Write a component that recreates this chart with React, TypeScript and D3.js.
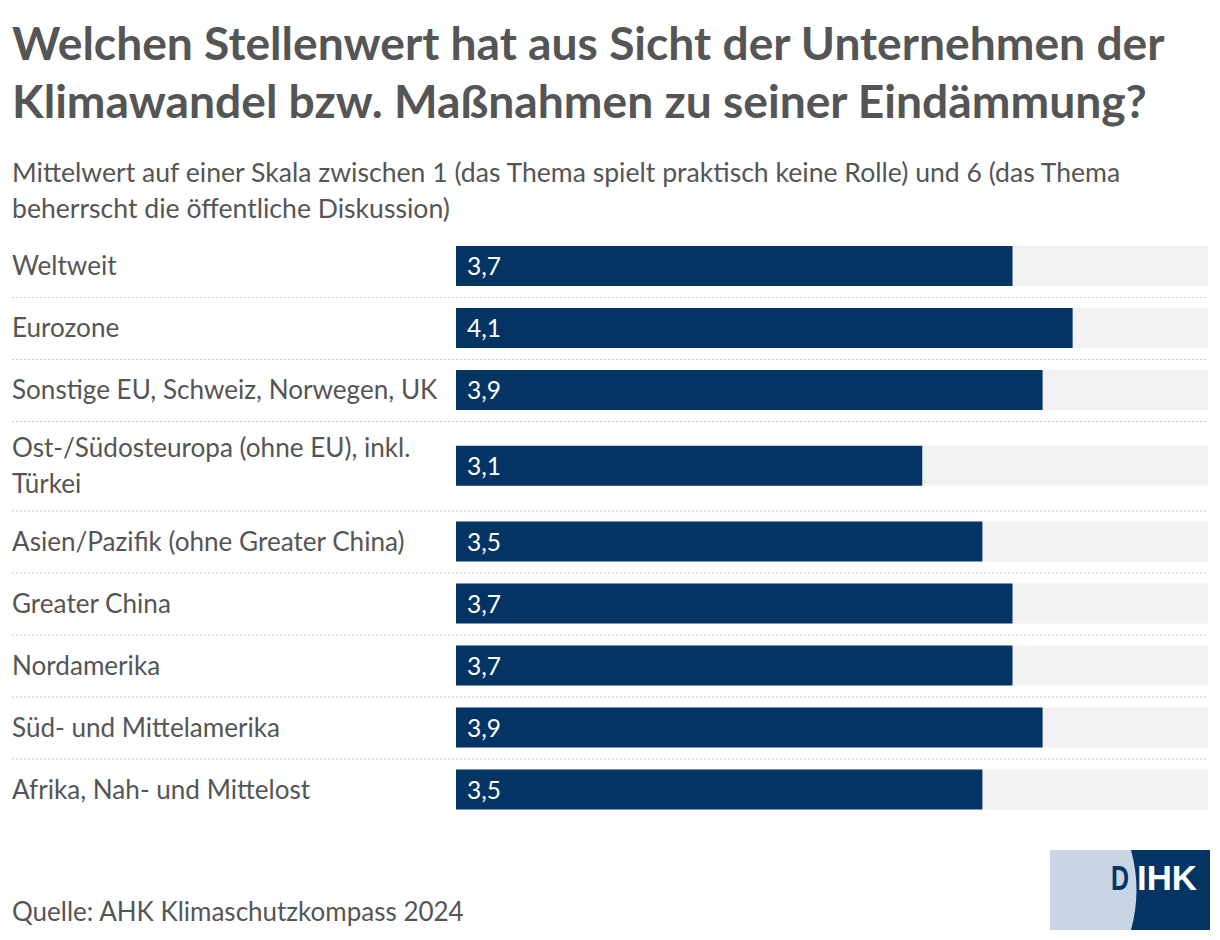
import React from "react";
import * as d3 from "d3";

const titleLines = [
  "Welchen Stellenwert hat aus Sicht der Unternehmen der",
  "Klimawandel bzw. Maßnahmen zu seiner Eindämmung?",
];
const subtitleLines = [
  "Mittelwert auf einer Skala zwischen 1 (das Thema spielt praktisch keine Rolle) und 6 (das Thema",
  "beherrscht die öffentliche Diskussion)",
];
const categories: string[][] = [
  ["Weltweit"],
  ["Eurozone"],
  ["Sonstige EU, Schweiz, Norwegen, UK"],
  ["Ost-/Südosteuropa (ohne EU), inkl.", "Türkei"],
  ["Asien/Pazifik (ohne Greater China)"],
  ["Greater China"],
  ["Nordamerika"],
  ["Süd- und Mittelamerika"],
  ["Afrika, Nah- und Mittelost"],
];
const values = [3.7, 4.1, 3.9, 3.1, 3.5, 3.7, 3.7, 3.9, 3.5];
const maxValue = 5;
const source = "Quelle: AHK Klimaschutzkompass 2024";

const FONT = "Lato, 'Source Sans Pro', sans-serif";
const TEXT = "#555555";
const BAR = "#033464";
const BG = "#f2f2f2";

export default function App() {
  const x = d3.scaleLinear().domain([0, maxValue]).range([456, 1208]);
  const rowTop0 = 235;
  const baseH = 62;
  const extraLine = 27.5;
  const heights = categories.map((c) => baseH + (c.length - 1) * extraLine);
  const tops: number[] = [];
  let acc = rowTop0;
  heights.forEach((h) => {
    tops.push(acc);
    acc += h;
  });
  const barH = 40;
  const fmt = (v: number) => v.toFixed(1).replace(".", ",");

  return (
    <svg
      width={1220}
      height={940}
      style={{ position: "absolute", left: 0, top: 0, background: "#fff" }}
      fontFamily={FONT}
    >
      {titleLines.map((t, i) => (
        <text key={i} x={12} y={60 + i * 58} fontSize={46.2} fontWeight={700} fill={TEXT}>
          {t}
        </text>
      ))}
      {subtitleLines.map((t, i) => (
        <text key={i} x={12} y={182 + i * 36} fontSize={26.6} fill={TEXT}>
          {t}
        </text>
      ))}
      {categories.map((lines, i) => {
        const top = tops[i];
        const h = heights[i];
        const cy = top + h / 2;
        const labelStart = cy - ((lines.length - 1) * 36) / 2;
        return (
          <g key={i}>
            {lines.map((l, j) => (
              <text key={j} x={12} y={labelStart + j * 36 + 9} fontSize={26.1} fill={TEXT}>
                {l}
              </text>
            ))}
            <rect x={x(0)} y={cy - barH / 2} width={x(maxValue) - x(0)} height={barH} fill={BG} />
            <rect x={x(0)} y={cy - barH / 2} width={x(values[i]) - x(0)} height={barH} fill={BAR} />
            <text x={x(0) + 11} y={cy + 9} fontSize={24.5} fill="#ffffff">
              {fmt(values[i])}
            </text>
            {i < categories.length - 1 && (
              <line
                x1={12}
                x2={1208}
                y1={top + h + 0.5}
                y2={top + h + 0.5}
                stroke="#cccccc"
                strokeWidth={1}
                strokeDasharray="2,2"
              />
            )}
          </g>
        );
      })}
      <text x={12} y={921} fontSize={26} fill={TEXT}>
        {source}
      </text>
      <g>
        <rect x={1050} y={850} width={160} height={80} fill="#c9d5e4" />
        <path d="M1131,850 Q1142,890 1131,930 L1210,930 L1210,850 Z" fill={BAR} />
        <g fontSize={35} fontWeight={700} fontFamily="'Liberation Sans', Arial, sans-serif">
          <text x={1111} y={890} fill={BAR} textLength={18} lengthAdjust="spacingAndGlyphs">
            D
          </text>
          <text x={1137} y={890} fill="#ffffff" textLength={60} lengthAdjust="spacingAndGlyphs">
            IHK
          </text>
        </g>
      </g>
    </svg>
  );
}
